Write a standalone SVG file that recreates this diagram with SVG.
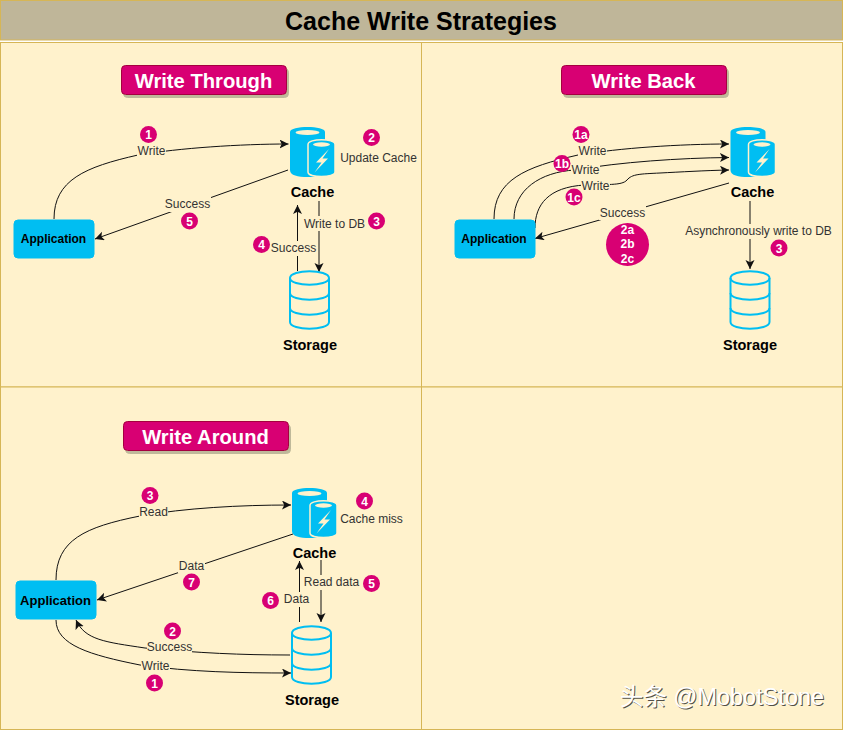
<svg xmlns="http://www.w3.org/2000/svg" width="843" height="730" viewBox="0 0 843 730">
<style>
text{font-family:"Liberation Sans",Arial,"Noto Sans CJK SC",sans-serif}
.panel{fill:#FFF2CC;stroke:#D6B656;stroke-width:1}
.head{fill:#D80073;stroke:#A50040;stroke-width:1;filter:url(#sh)}
.headt{font-size:20.2px;font-weight:700;fill:#fff;text-anchor:middle}
.app{fill:#00BEF2;stroke:#00BEF2}
.appt{font-size:12px;font-weight:700;fill:#000;text-anchor:middle}
.name{font-size:14.500px;font-weight:700;fill:#000;text-anchor:middle}
.lbl{font-size:12px;fill:#333;text-anchor:middle}
.bg{fill:#FFF2CC}
.c{fill:none;stroke:#111;stroke-width:1;marker-end:url(#arr)}
.b{fill:#D80073}
.bt{font-size:12px;font-weight:700;fill:#fff;text-anchor:middle}
.st{fill:none;stroke:#00BEF2;stroke-width:2}
</style>
<defs>
<filter id="sh" x="-5%" y="-10%" width="112%" height="130%"><feDropShadow dx="2" dy="3" stdDeviation="0.6" flood-color="#8a8a70" flood-opacity="0.55"/></filter>
<marker id="arr" markerWidth="11" markerHeight="10" refX="9" refY="4.500" orient="auto" markerUnits="userSpaceOnUse"><path d="M0 0L9 4.500L0 9L2.200 4.500Z" fill="#111"/></marker>
<g id="cacheIcon">
<path d="M0 5C0-1.700 35-1.700 35 5V43C35 49 26 50 17.500 50C8 50 0 48.500 0 43Z" fill="#00BEF2"/>
<ellipse cx="17.500" cy="5.500" rx="12" ry="2.600" fill="#FFF2CC"/>
<path d="M18 17.500C18 11 45 11 45 17.500V45C45 51 18 51 18 45Z" fill="#00BEF2" stroke="#FFF2CC" stroke-width="1.500"/>
<ellipse cx="31.500" cy="17.500" rx="8.500" ry="2.200" fill="#FFF2CC"/>
<path d="M39 22L26 35.500H31.500L24.500 45.500L38 31.500H32.500Z" fill="#FFF2CC"/>
</g>
<g id="storageIcon">
<path class="st" d="M0 7C0-2 39-2 39 7V51C39 60 0 60 0 51Z"/>
<path class="st" d="M0 7C0 16 39 16 39 7M0 22C0 31 39 31 39 22M0 37C0 46 39 46 39 37"/>
</g>
</defs>
<g id="title"><rect x="0.500" y="0.500" width="842" height="39.500" fill="#BFB699" stroke="#D6B656"/>
<text x="421" y="30" font-size="25" font-weight="700" fill="#000" text-anchor="middle">Cache Write Strategies</text></g>
<g id="panels">
<rect class="panel" x="0.500" y="42.500" width="421" height="344.500"/>
<rect class="panel" x="421.500" y="42.500" width="421" height="344.500"/>
<rect class="panel" x="0.500" y="387" width="421" height="342.500"/>
<rect class="panel" x="421.500" y="387" width="421" height="342.500"/>
</g>
<g id="connectors">
<path class="c" d="M54 219C54 180 85 167 138 155C180 148 240 144 288.500 144"/>
<path class="c" d="M288 170L95 239"/>
<path class="c" d="M297.500 271V205"/>
<path class="c" d="M319 201V272"/>
<path class="c" d="M494 219C494 180 525 167 578 155C620 148 680 144 729 144"/>
<path class="c" d="M514 219C514 190 540 172 575 170C620 162 680 158 729 157.500"/>
<path class="c" d="M535 228C535 205 548 187 585 185C605 184 622 186 627 180C632 174 640 174 660 173C680 172 705 170.500 729 170"/>
<path class="c" d="M729 183L535 238.500"/>
<path class="c" d="M750 201V269"/>
<path class="c" d="M56 580C56 540 85 527 140 516C185 508 240 505 291 505"/>
<path class="c" d="M293 534L97 600"/>
<path class="c" d="M299.500 622V561"/>
<path class="c" d="M321 560V622"/>
<path class="c" d="M290 655C240 655 200 653 145 648C105 642 85 640 76 620"/>
<path class="c" d="M56 620C56 645 90 655 140 665C190 672 240 673 291 673"/>
</g>
<g id="labels">
<rect class="bg" x="137" y="144" width="29" height="13"/><text class="lbl" x="151.500" y="155">Write</text>
<text class="lbl" x="378.500" y="162">Update Cache</text>
<rect class="bg" x="164" y="197" width="47" height="15"/><text class="lbl" x="187.500" y="208">Success</text>
<rect class="bg" x="303" y="216" width="63" height="15"/><text class="lbl" x="334.500" y="228">Write to DB</text>
<rect class="bg" x="270" y="241" width="47" height="15"/><text class="lbl" x="293.500" y="252">Success</text>
<rect class="bg" x="578" y="144" width="29" height="13"/><text class="lbl" x="592.500" y="155">Write</text>
<rect class="bg" x="571" y="163" width="29" height="13"/><text class="lbl" x="585.500" y="174">Write</text>
<rect class="bg" x="581" y="179" width="29" height="13"/><text class="lbl" x="595.500" y="190">Write</text>
<rect class="bg" x="599" y="206" width="47" height="14"/><text class="lbl" x="622.500" y="217">Success</text>
<rect class="bg" x="685" y="224" width="147" height="15"/><text class="lbl" x="758.500" y="235">Asynchronously write to DB</text>
<rect class="bg" x="139" y="505" width="29" height="13"/><text class="lbl" x="153.500" y="516">Read</text>
<text class="lbl" x="371.500" y="523">Cache miss</text>
<rect class="bg" x="178" y="559" width="27" height="14"/><text class="lbl" x="191.500" y="570">Data</text>
<rect class="bg" x="303" y="575" width="57" height="15"/><text class="lbl" x="331.500" y="586">Read data</text>
<rect class="bg" x="283" y="592" width="27" height="15"/><text class="lbl" x="296.500" y="603">Data</text>
<rect class="bg" x="147" y="640" width="45" height="14"/><text class="lbl" x="169.500" y="651">Success</text>
<rect class="bg" x="141" y="659" width="29" height="13"/><text class="lbl" x="155.500" y="670">Write</text>
</g>
<g id="head-through"><rect class="head" x="121.500" y="65.500" width="165" height="29" rx="4"/><text class="headt" x="203.500" y="88">Write Through</text></g>
<g id="head-back"><rect class="head" x="561.500" y="65.500" width="165" height="29" rx="4"/><text class="headt" x="643.500" y="88">Write Back</text></g>
<g id="head-around"><rect class="head" x="123.500" y="421.500" width="165" height="29" rx="4"/><text class="headt" x="205.500" y="444">Write Around</text></g>
<g id="app-through"><rect class="app" x="14" y="220" width="80" height="38" rx="4"/><text class="appt" x="53.500" y="243">Application</text></g>
<g id="cache-through"><use href="#cacheIcon" x="290" y="127"/><text class="name" x="312.500" y="197">Cache</text></g>
<g id="storage-through"><use href="#storageIcon" x="290" y="271"/><text class="name" x="310" y="350">Storage</text></g>
<g id="app-back"><rect class="app" x="455" y="220" width="80" height="38" rx="4"/><text class="appt" x="494" y="243">Application</text></g>
<g id="cache-back"><use href="#cacheIcon" x="730.500" y="127"/><text class="name" x="752.500" y="197">Cache</text></g>
<g id="storage-back"><use href="#storageIcon" x="730.500" y="271"/><text class="name" x="750" y="350">Storage</text></g>
<g id="app-around"><rect class="app" x="16" y="581" width="80" height="38" rx="4"/><text class="appt" x="55.500" y="605" style="font-size:13px">Application</text></g>
<g id="cache-around"><use href="#cacheIcon" x="292" y="488"/><text class="name" x="314.500" y="558">Cache</text></g>
<g id="storage-around"><use href="#storageIcon" x="292" y="626"/><text class="name" x="312" y="705">Storage</text></g>
<g id="badges">
<circle class="b" cx="148.500" cy="134.500" r="8.500"/><text class="bt" x="148.500" y="139">1</text>
<circle class="b" cx="371.500" cy="137.500" r="8.500"/><text class="bt" x="371.500" y="142">2</text>
<circle class="b" cx="376.500" cy="221" r="8.500"/><text class="bt" x="376.500" y="225.500">3</text>
<circle class="b" cx="261.500" cy="244.500" r="8.500"/><text class="bt" x="261.500" y="249">4</text>
<circle class="b" cx="189.500" cy="221" r="8.500"/><text class="bt" x="189.500" y="225.500">5</text>
<circle class="b" cx="581" cy="134.500" r="8.500"/><text class="bt" x="581" y="139">1a</text>
<circle class="b" cx="562" cy="163.500" r="8.500"/><text class="bt" x="562" y="168">1b</text>
<circle class="b" cx="574" cy="197" r="8.500"/><text class="bt" x="574" y="201.500">1c</text>
<circle class="b" cx="627.500" cy="244.500" r="21.500"/><text class="bt" x="627.500" y="234">2a</text><text class="bt" x="627.500" y="248">2b</text><text class="bt" x="627.500" y="263">2c</text>
<circle class="b" cx="779" cy="248" r="8.500"/><text class="bt" x="779" y="252.500">3</text>
<circle class="b" cx="150" cy="495.500" r="8.500"/><text class="bt" x="150" y="500">3</text>
<circle class="b" cx="364.500" cy="501" r="8.500"/><text class="bt" x="364.500" y="505.500">4</text>
<circle class="b" cx="371.500" cy="583.500" r="8.500"/><text class="bt" x="371.500" y="588">5</text>
<circle class="b" cx="270.500" cy="600.500" r="8.500"/><text class="bt" x="270.500" y="605">6</text>
<circle class="b" cx="191.500" cy="582" r="8.500"/><text class="bt" x="191.500" y="586.500">7</text>
<circle class="b" cx="172.500" cy="631" r="8.500"/><text class="bt" x="172.500" y="635.500">2</text>
<circle class="b" cx="154.500" cy="683" r="8.500"/><text class="bt" x="154.500" y="687.500">1</text>
</g>
<g id="watermark" font-size="23.500">
<text x="621" y="706" fill="#222" fill-opacity="0.8">头条 @MobotStone</text>
<text x="620" y="705" fill="#fff">头条 @MobotStone</text>
</g>
</svg>
